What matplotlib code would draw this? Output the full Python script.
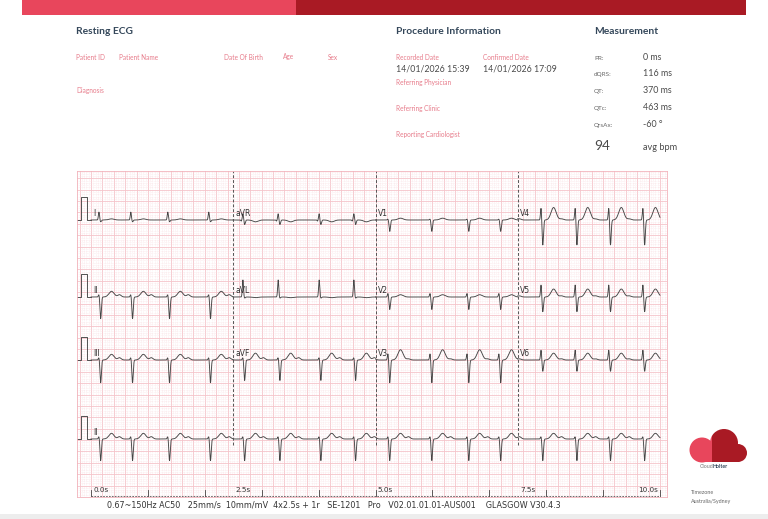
import numpy as np
import matplotlib
matplotlib.use("Agg")
import matplotlib.pyplot as plt
from matplotlib import patches
from matplotlib.ticker import MultipleLocator

# R-peak times in seconds
beat_times = [0.14, 0.70, 1.35, 2.07, 2.67, 3.29, 4.01, 4.62, 5.22,
              5.96, 6.61, 7.17, 7.91, 8.51, 9.10, 9.70]

# layout of leads: 3 rows x 4 columns, then a rhythm strip
lead_rows = [["I", "aVR", "V1", "V4"],
             ["II", "aVL", "V2", "V5"],
             ["III", "aVF", "V3", "V6"],
             ["II"]]

# per-lead wave amplitudes in mV (q, R, S, T, U)
lead_names = ["I", "II", "III", "aVR", "aVL", "aVF", "V1", "V2", "V3", "V4", "V5", "V6"]
q_amp = [0.00, 0.00, 0.00, -0.05, 0.00, 0.00, 0.00, 0.00, 0.00, 0.00, 0.00, 0.00]
r_amp = [0.35, 0.12, 0.12, 0.28, 0.75, 0.12, 0.05, 0.17, 0.30, 0.55, 0.55, 0.45]
s_amp = [-0.08, -0.95, -1.00, -0.20, -0.05, -0.90, -0.50, -0.55, -1.00, -1.10, -0.65, -0.50]
t_amp = [0.05, 0.25, 0.25, -0.08, -0.03, 0.30, 0.08, 0.10, 0.45, 0.55, 0.35, 0.30]
u_amp = [0.00, 0.10, 0.10, 0.00, 0.00, 0.10, 0.00, 0.00, 0.05, 0.05, 0.05, 0.05]

measure_labels = ["PR:", "dQRS:", "QT:", "QTc:", "QrsAx:"]
measure_values = ["0 ms", "116 ms", "370 ms", "463 ms", "-60 °"]

footer = ("0.67~150Hz AC50   25mm/s  10mm/mV  4x2.5s + 1r   SE-1201   Pro   "
          "V02.01.01.01-AUS001    GLASGOW V30.4.3")

PINK = "#E8465C"
DARK = "#A91A24"
HEAD = "#34475A"
LBL = "#E77B8A"
TXT = "#4A4A4A"

fig = plt.figure(figsize=(7.68, 5.19), dpi=100)
bg = fig.add_axes([0, 0, 1, 1])
bg.set_xlim(0, 768)
bg.set_ylim(519, 0)
bg.axis("off")

# header band
bg.add_patch(patches.Rectangle((22, 0), 274, 15, color=PINK, lw=0))
bg.add_patch(patches.Rectangle((296, 0), 450, 15, color=DARK, lw=0))
bg.add_patch(patches.Rectangle((0, 514), 768, 5, color="#EDEDED", lw=0))

hf = "Lato"
for x, s in [(76, "Resting ECG"), (396, "Procedure Information"), (594, "Measurement")]:
    bg.text(x, 31, s, fontsize=7.4, fontweight="bold", color=HEAD, family=hf, va="center")

for x, s in [(76, "Patient ID"), (119, "Patient Name"), (224, "Date Of Birth"),
             (283, "Age"), (328, "Sex"), (396, "Recorded Date"), (483, "Confirmed Date")]:
    bg.text(x, 57, s, fontsize=4.7, color=LBL, family=hf, va="center")
bg.text(76, 91, "Diagnosis", fontsize=4.7, color=LBL, family=hf, va="center")
bg.text(396, 83, "Referring Physician", fontsize=4.7, color=LBL, family=hf, va="center")
bg.text(396, 108, "Referring Clinic", fontsize=4.7, color=LBL, family=hf, va="center")
bg.text(396, 134, "Reporting Cardiologist", fontsize=4.7, color=LBL, family=hf, va="center")
bg.text(396, 69, "14/01/2026 15:39", fontsize=6.3, color=TXT, family=hf, va="center")
bg.text(483, 69, "14/01/2026 17:09", fontsize=6.3, color=TXT, family=hf, va="center")

for i, (lab, val) in enumerate(zip(measure_labels, measure_values)):
    y = 57 + i * 16.8
    bg.text(594, y + 1, lab, fontsize=4.6, color="#666666", family=hf, va="center")
    bg.text(643, y, val, fontsize=6.4, color=TXT, family=hf, va="center")
bg.text(594, 146, "94", fontsize=9.8, color=TXT, family=hf, va="center")
bg.text(643, 147, "avg bpm", fontsize=6.6, color=TXT, family=hf, va="center")

# logo
for col, clip in [(PINK, (680, 712)), (DARK, (712, 752))]:
    box = patches.Rectangle((clip[0], 420), clip[1] - clip[0], 50, transform=bg.transData)
    for c in [patches.Circle((702, 450), 12.5), patches.Circle((724, 443), 14),
              patches.Circle((738, 453), 9), patches.Rectangle((700, 449), 39, 13)]:
        c.set_color(col)
        c.set_linewidth(0)
        bg.add_patch(c)
        c.set_clip_path(box)
bg.text(713, 467, "Cloud", fontsize=3.8, color="#777777", family=hf, va="center", ha="right")
bg.text(713, 467, "Holter", fontsize=3.8, color=HEAD, family=hf, fontweight="bold", va="center", ha="left")
bg.text(691, 492, "Timezone", fontsize=3.9, color="#666666", family=hf, va="center")
bg.text(691, 501, "Australia/Sydney", fontsize=3.9, color="#666666", family=hf, va="center")

bg.text(107, 505, footer, fontsize=5.8, color="#333333", va="center",
        family=["Liberation Sans Narrow", "DejaVu Sans"])

# ECG grid area (pixels -> seconds / mV)
px_s = 56.9
px_mv = 22.76
gx0, gx1, gy0, gy1 = 77, 667, 171, 497
t0_px = 91
ax = fig.add_axes([gx0 / 768, 1 - gy1 / 519, (gx1 - gx0) / 768, (gy1 - gy0) / 519])
ax.set_xlim((gx0 - t0_px) / px_s, (gx1 - t0_px) / px_s)
ax.set_ylim(0, (gy1 - gy0) / px_mv)
ax.xaxis.set_major_locator(MultipleLocator(0.2))
ax.xaxis.set_minor_locator(MultipleLocator(0.04))
ax.yaxis.set_major_locator(MultipleLocator(0.5))
ax.yaxis.set_minor_locator(MultipleLocator(0.1))
ax.grid(which="major", color="#F5C4CA", lw=0.6)
ax.grid(which="minor", color="#F9DDE0", lw=0.4, ls=(0, (1, 1.5)))
ax.tick_params(which="both", length=0, labelbottom=False, labelleft=False)
for sp in ax.spines.values():
    sp.set_color("#F2B3BB")
    sp.set_linewidth(0.6)
ax.set_axisbelow(True)


def g(t, c, w):
    return np.exp(-0.5 * ((t - c) / w) ** 2)


def trace(lead, t):
    k = lead_names.index(lead)
    y = np.zeros_like(t)
    for bt in beat_times:
        d = t - bt
        y += (q_amp[k] * g(d, -0.028, 0.008) + r_amp[k] * g(d, 0, 0.010)
              + s_amp[k] * g(d, 0.030, 0.012) + t_amp[k] * g(d, 0.22, 0.045)
              + u_amp[k] * g(d, 0.36, 0.03))
    return y


ink = "#454545"
row_base_px = [220, 297, 360, 439]
for r, leads in enumerate(lead_rows):
    base = (gy1 - row_base_px[r]) / px_mv
    # calibration pulse
    ct = [-0.246, -0.18, -0.18, -0.076, -0.076, 0.0]
    cv = [0, 0, 1, 1, 0, 0]
    ax.plot(ct, np.array(cv) + base, color=ink, lw=0.65)
    span = 10.0 / len(leads)
    for c, lead in enumerate(leads):
        t = np.linspace(c * span, (c + 1) * span, int(span * 500))
        ax.plot(t, trace(lead, t) + base, color=ink, lw=0.65)
        ax.text(c * span + 0.04, base + 0.3, lead, fontsize=5.5, color="#333333", va="center")

# column separators
sep_top = (gy1 - gy0) / px_mv
sep_bot = (gy1 - 445) / px_mv
for c in [2.5, 5.0, 7.5]:
    ax.plot([c, c], [sep_bot, sep_top], color="#555555", lw=0.7, ls=(0, (3, 2)))

# time ruler along the bottom
ax.plot([0, 10], [0.05, 0.05], color="#555555", lw=0.6, ls=(0, (2, 1.5)), clip_on=False)
for s in range(11):
    ax.plot([s, s], [0.05, 0.3], color="#444444", lw=0.6, clip_on=False)
for s in [0.0, 2.5, 5.0, 7.5]:
    ax.text(s + 0.04, 0.3, "%.1fs" % s, fontsize=5.2, color="#333333", va="center")
ax.text(9.96, 0.3, "10.0s", fontsize=5.2, color="#333333", va="center", ha="right")

fig.savefig("out.png", dpi=100)
